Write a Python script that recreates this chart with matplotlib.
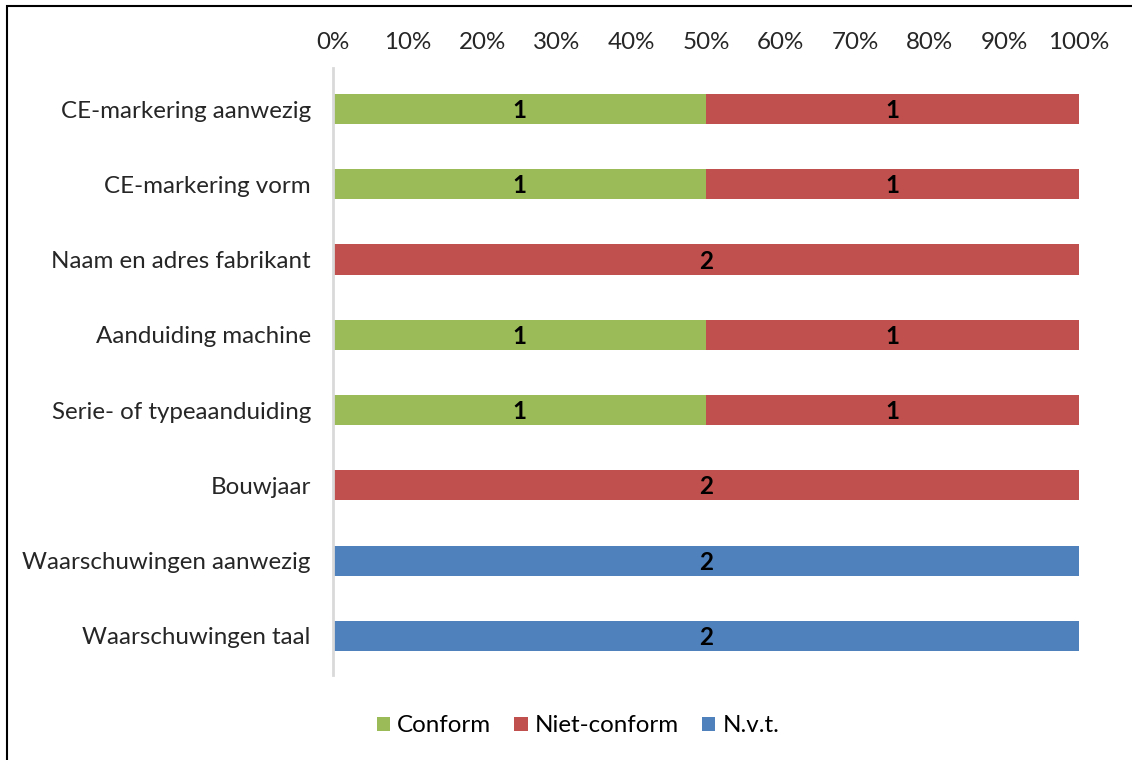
import matplotlib.pyplot as plt
import numpy as np
from matplotlib.patches import Rectangle

''' Data '''
categories = ["CE-markering aanwezig", "CE-markering vorm", "Naam en adres fabrikant",
              "Aanduiding machine", "Serie- of typeaanduiding", "Bouwjaar",
              "Waarschuwingen aanwezig", "Waarschuwingen taal"]
conform = [1, 1, 0, 1, 1, 0, 0, 0]
niet_conform = [1, 1, 2, 1, 1, 2, 0, 0]
nvt = [0, 0, 0, 0, 0, 0, 2, 2]
series_names = ["Conform", "Niet-conform", "N.v.t."]
colors = ["#9BBB59", "#C0504D", "#4F81BD"]

plt.rcParams['font.family'] = ['Lato', 'DejaVu Sans']
fs = 17.4

fig = plt.figure(figsize=(11.32, 7.6), dpi=100)
ax = fig.add_axes([333/1132, 1 - 675/760, (1079-333)/1132, (675-68)/760])

counts = np.array([conform, niet_conform, nvt], dtype=float)
totals = counts.sum(axis=0)
shares = counts / totals * 100
y = np.arange(len(categories))
left = np.zeros(len(categories))
for k in range(3):
    ax.barh(y, shares[k], left=left, height=0.4, color=colors[k], label=series_names[k])
    for i in range(len(categories)):
        if counts[k, i] > 0:
            ax.text(left[i] + shares[k, i] / 2, y[i] + 0.02, str(int(counts[k, i])),
                    ha='center', va='center', fontsize=fs, fontweight='bold', color='black')
    left += shares[k]

ax.set_xlim(0, 100)
ax.set_ylim(len(categories) - 0.48, -0.545)
ax.set_yticks(y)
ax.set_yticklabels(categories, fontsize=fs)
ax.set_xticks(np.arange(0, 101, 10))
ax.set_xticklabels([f"{v}%" for v in range(0, 101, 10)], fontsize=fs)
ax.xaxis.tick_top()
ax.tick_params(axis='both', length=0, colors='#262626')
ax.tick_params(axis='y', pad=16)
ax.tick_params(axis='x', pad=11)
for s in ['top', 'right', 'bottom']:
    ax.spines[s].set_visible(False)
ax.spines['left'].set_color('#D9D9D9')
ax.spines['left'].set_linewidth(2)

ax.legend(loc='center', bbox_to_anchor=(578/1132, 1 - 726/760), bbox_transform=fig.transFigure,
          ncol=3, frameon=False, fontsize=fs, handlelength=0.55, handleheight=0.55,
          handletextpad=0.3, columnspacing=0.95)

fig.patches.append(Rectangle((7/1132, -0.1), 1.2, 1 - 6/760 + 0.1, transform=fig.transFigure,
                             fill=False, edgecolor='black', linewidth=1.5))

fig.savefig('out.png', dpi=100)
